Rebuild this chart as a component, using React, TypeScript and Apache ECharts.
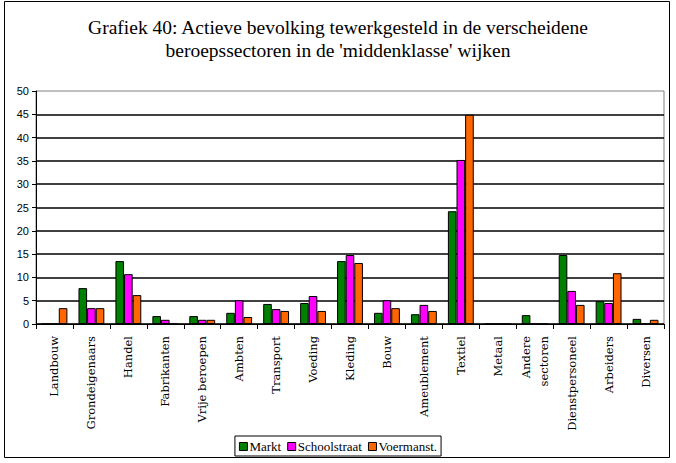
import React, { useEffect, useRef } from "react";
import * as echarts from "echarts";

const categories = [
  "Landbouw", "Grondeigenaars", "Handel", "Fabrikanten", "Vrije beroepen",
  "Ambten", "Transport", "Voeding", "Kleding", "Bouw", "Ameublement",
  "Textiel", "Metaal", "Andere\nsectoren", "Dienstpersoneel", "Arbeiders", "Diversen",
];
const markt = [0, 7.7, 13.5, 1.7, 1.7, 2.4, 4.3, 4.5, 13.5, 2.4, 2.1, 24.2, 0, 1.9, 14.8, 4.9, 1.1];
const schoolstraat = [0, 3.4, 10.7, 0.9, 0.9, 5.1, 3.2, 6.0, 14.8, 5.1, 4.1, 35.2, 0, 0, 7.1, 4.5, 0];
const voermanst = [3.4, 3.4, 6.2, 0, 0.9, 1.5, 2.8, 2.8, 13.1, 3.4, 2.8, 44.9, 0, 0, 4.1, 10.9, 0.9];
const seriesNames = ["Markt", "Schoolstraat", "Voermanst."];
const colors = ["#008000", "#FF00FF", "#FF6600"];
const titleLines = [
  "Grafiek 40: Actieve bevolking tewerkgesteld in de verscheidene",
  "beroepssectoren in de 'middenklasse' wijken",
];

export default function App() {
  const ref = useRef<HTMLDivElement>(null);
  useEffect(() => {
    if (!ref.current) return;
    const chart = echarts.init(ref.current, null, { renderer: "svg" });
    const serif = "'Liberation Serif', serif";
    const data = [markt, schoolstraat, voermanst];
    chart.setOption({
      animation: false,
      backgroundColor: "#fff",
      title: {
        text: titleLines.join("\n"),
        left: "center",
        top: 11,
        textStyle: { fontFamily: serif, fontSize: 19.5, fontWeight: "normal", color: "#000", lineHeight: 23 },
      },
      graphic: [
        {
          type: "rect",
          shape: { x: 4.5, y: 1.5, width: 665, height: 456 },
          style: { fill: "none", stroke: "#000", lineWidth: 1 },
          silent: true,
        },
      ],
      legend: {
        bottom: 7,
        left: "center",
        data: seriesNames,
        icon: "rect",
        itemWidth: 8,
        itemHeight: 8,
        itemGap: 6,
        padding: [4, 4, 3, 4],
        borderColor: "#000",
        borderWidth: 1,
        itemStyle: { borderColor: "#000", borderWidth: 1 },
        textStyle: { fontFamily: serif, fontSize: 13, color: "#000", padding: [0, 0, 0, -3] },
      },
      grid: {
        left: 36,
        right: 12,
        top: 91,
        bottom: 139,
        show: true,
        borderColor: "#808080",
        borderWidth: 1,
      },
      xAxis: {
        type: "category",
        data: categories,
        axisLine: { lineStyle: { color: "#000", width: 1 } },
        axisTick: { show: true, interval: 0, length: 5, lineStyle: { color: "#000" } },
        axisLabel: {
          interval: 0,
          rotate: 90,
          margin: 12,
          fontFamily: "'DejaVu Serif', serif",
          fontSize: 11.5,
          color: "#000",
          lineHeight: 18,
        },
      },
      yAxis: {
        type: "value",
        min: 0,
        max: 50,
        interval: 5,
        axisLine: { show: true, lineStyle: { color: "#000" } },
        axisTick: { show: true, length: 4, lineStyle: { color: "#000" } },
        axisLabel: { fontFamily: "'Liberation Sans', sans-serif", fontSize: 11, color: "#000", margin: 7 },
        splitLine: { show: true, showMaxLine: false, lineStyle: { color: "#000", width: 1.5 } },
      },
      series: seriesNames.map((name, i) => ({
        name,
        type: "bar",
        data: data[i],
        barGap: "0%",
        barCategoryGap: "30%",
        itemStyle: { color: colors[i], borderColor: "#000", borderWidth: 1 },
      })),
    });
    return () => chart.dispose();
  }, []);
  return (
    <div
      ref={ref}
      style={{ position: "fixed", left: 0, top: 0, width: 676, height: 463, background: "#fff" }}
    />
  );
}
